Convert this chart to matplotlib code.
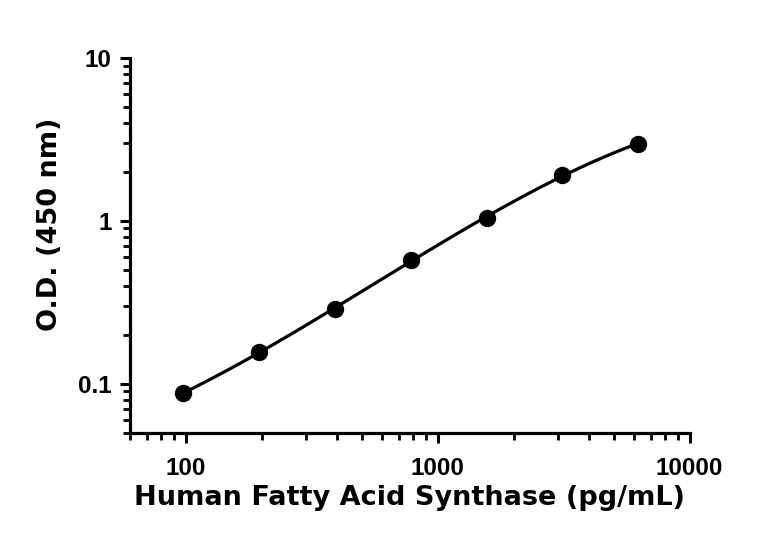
import numpy as np
import matplotlib.pyplot as plt
from matplotlib.ticker import LogLocator, NullFormatter

# standard curve (pg/mL) and measured O.D.
concentracao = [97.66, 195.3, 390.6, 781.25, 1562.5, 3125, 6250]
od_450 = [0.0875, 0.158, 0.287, 0.575, 1.04, 1.92, 2.98]

x_ticks = [100, 1000, 10000]
x_tick_labels = ['100', '1000', '10000']
y_ticks = [0.1, 1, 10]
y_tick_labels = ['0.1', '1', '10']

fig = plt.figure(figsize=(7.68, 5.43), dpi=100)
ax = fig.add_axes([0.169, 0.2026, 0.729, 0.6905])

# smooth fitted curve in log-log space
lx = np.log10(concentracao)
ly = np.log10(od_450)
coef = np.polyfit(lx, ly, 3)
xs = np.linspace(lx[0], lx[-1], 200)
ax.plot(10 ** xs, 10 ** np.polyval(coef, xs), color='black', lw=2.3, zorder=2)
ax.plot(concentracao, od_450, 'o', color='black', ms=11.5, zorder=3)

ax.set_xscale('log')
ax.set_yscale('log')
ax.set_xlim(60, 10000)
ax.set_ylim(0.05, 10)

fonte_ticks = dict(family='Liberation Sans', fontweight='bold', fontsize=17.5)
ax.set_xticks(x_ticks, x_tick_labels, **fonte_ticks)
ax.set_yticks(y_ticks, y_tick_labels, **fonte_ticks)
ax.xaxis.set_minor_locator(LogLocator(base=10, subs=np.arange(2, 10)))
ax.xaxis.set_minor_formatter(NullFormatter())
ax.yaxis.set_minor_locator(LogLocator(base=10, subs=np.arange(2, 10)))
ax.yaxis.set_minor_formatter(NullFormatter())

for s in ['top', 'right']:
    ax.spines[s].set_visible(False)
for s in ['left', 'bottom']:
    ax.spines[s].set_linewidth(2.3)

ax.tick_params(which='major', length=7, width=2.2, direction='out')
ax.tick_params(which='minor', length=5, width=2.0, direction='out')
ax.tick_params(axis='x', which='major', pad=10)
ax.tick_params(axis='y', which='major', pad=6)

ax.set_xlabel('Human Fatty Acid Synthase (pg/mL)', fontsize=19.5,
              fontweight='bold', family='DejaVu Sans', labelpad=4)
ax.set_ylabel('O.D. (450 nm)', fontsize=19.5, fontweight='bold',
              family='DejaVu Sans')
ax.yaxis.set_label_coords(-0.12, 0.557)

fig.savefig('out.png', dpi=100)
